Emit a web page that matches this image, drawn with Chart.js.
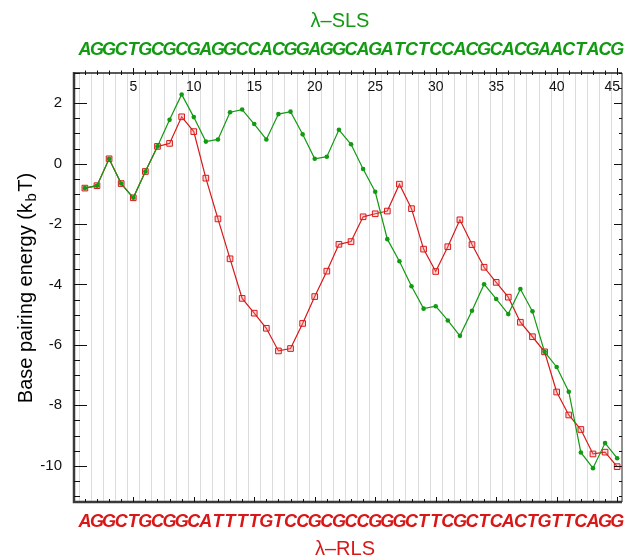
<!DOCTYPE html>
<html>
<head>
<meta charset="utf-8">
<script src="https://cdn.jsdelivr.net/npm/chart.js@4.4.0/dist/chart.umd.min.js"></script>
<style>
  html, body { margin: 0; padding: 0; background: #fff; }
  #wrap { width: 627px; height: 560px; }
</style>
</head>
<body>
<div id="wrap"><canvas id="energyChart" width="627" height="560"></canvas></div>
<script>
// sequences (one base per position)
const slsSeq = 'AGGCTGCGCGAGGCCACGGAGGCAGATCTCCACGCACGAACTACG';
const rlsSeq = 'AGGCTGCGGCATTTTGTCCGCGCCGGGCTTCGCTCACTGTTCAGG';

// base positions 1..45
const positions = Array.from(slsSeq, (_, i) => i + 1);

// base pairing energy (kbT)
const slsEnergy = [-0.81, -0.73, 0.16, -0.66, -1.13, -0.26, 0.57, 1.45, 2.29, 1.54,
  0.73, 0.80, 1.70, 1.79, 1.31, 0.80, 1.64, 1.72, 0.97, 0.16,
  0.23, 1.12, 0.64, -0.18, -0.93, -2.50, -3.23, -4.06, -4.80, -4.72,
  -5.19, -5.70, -4.87, -3.99, -4.48, -4.98, -4.15, -4.89, -6.23, -6.73,
  -7.55, -9.56, -10.08, -9.25, -9.75];

const rlsEnergy = [-0.81, -0.73, 0.16, -0.66, -1.13, -0.26, 0.57, 0.67, 1.55, 1.06,
  -0.48, -1.83, -3.15, -4.46, -4.95, -5.45, -6.20, -6.12, -5.29, -4.40,
  -3.56, -2.67, -2.58, -1.76, -1.66, -1.57, -0.68, -1.49, -2.83, -3.57,
  -2.75, -1.86, -2.68, -3.43, -3.93, -4.42, -5.25, -5.73, -6.23, -7.56,
  -8.32, -8.80, -9.61, -9.55, -10.03];

const yTicks = [-10, -8, -6, -4, -2, 0, 2];
const topTicks = [5, 10, 15, 20, 25, 30, 35, 40, 45];

const GREEN = '#129a12';
const RED = '#d81818';
const FONT = '"Liberation Sans", Arial, Helvetica, sans-serif';

// axes frame, ticks, grid, sequences and labels
const decorPlugin = {
    id: 'decor',
    beforeDatasetsDraw(chart) {
        const { ctx, chartArea: a, scales: { x } } = chart;
        ctx.save();
        ctx.strokeStyle = '#dcdcdc';
        ctx.lineWidth = 1;
        for (let k = 0.5; k <= 45.5; k += 1) {
            const px = Math.round(x.getPixelForValue(k)) + 0.5;
            if (px <= a.left + 1 || px >= a.right - 1) continue;
            ctx.beginPath();
            ctx.moveTo(px, a.top);
            ctx.lineTo(px, a.bottom);
            ctx.stroke();
        }
        ctx.restore();
    },
    afterDraw(chart) {
        const { ctx, chartArea: a, scales: { x, y } } = chart;
        ctx.save();

        // frame
        ctx.strokeStyle = '#222';
        ctx.lineWidth = 1.5;
        ctx.beginPath();
        ctx.moveTo(a.left, a.top);
        ctx.lineTo(a.right, a.top);
        ctx.stroke();
        ctx.lineWidth = 1;
        ctx.beginPath();
        ctx.moveTo(a.right, a.top);
        ctx.lineTo(a.right, a.bottom);
        ctx.stroke();
        ctx.strokeStyle = '#3a3a3a';
        ctx.lineWidth = 2.5;
        ctx.beginPath();
        ctx.moveTo(a.left, a.top - 1);
        ctx.lineTo(a.left, a.bottom);
        ctx.lineTo(a.right, a.bottom);
        ctx.stroke();

        // x ticks (top and bottom)
        ctx.strokeStyle = '#111';
        ctx.lineWidth = 1;
        for (let k = 1; k <= 45; k++) {
            const px = Math.round(x.getPixelForValue(k)) + 0.5;
            const major = k % 5 === 0;
            ctx.beginPath();
            ctx.moveTo(px, a.top - (major ? 5 : 2.5));
            ctx.lineTo(px, a.top + 2);
            ctx.moveTo(px, a.bottom - (major ? 5 : 3));
            ctx.lineTo(px, a.bottom);
            ctx.stroke();
        }

        // y ticks (left and right, inward)
        ctx.lineWidth = 1.2;
        for (let v = -11; v <= 3; v += 0.5) {
            const py = Math.round(y.getPixelForValue(v)) + 0.5;
            if (py < a.top || py > a.bottom) continue;
            const major = v % 2 === 0;
            ctx.beginPath();
            ctx.moveTo(a.left, py);
            ctx.lineTo(a.left + (major ? 13 : 6), py);
            ctx.moveTo(a.right, py);
            ctx.lineTo(a.right - (major ? 8 : 3), py);
            ctx.stroke();
        }

        // top tick labels, inside the frame
        ctx.fillStyle = '#111';
        ctx.font = '14px ' + FONT;
        ctx.textAlign = 'center';
        ctx.textBaseline = 'middle';
        topTicks.forEach(t => {
            const off = t === 45 ? -5 : 0;
            ctx.fillText(String(t), x.getPixelForValue(t) + off, a.top + 14);
        });

        // sequences
        ctx.font = 'italic bold 18px ' + FONT;
        positions.forEach((p, i) => {
            const px = x.getPixelForValue(p);
            ctx.fillStyle = GREEN;
            ctx.fillText(slsSeq[i], px, 50);
            ctx.fillStyle = RED;
            ctx.fillText(rlsSeq[i], px, 522);
        });

        // titles
        ctx.font = '20px ' + FONT;
        ctx.fillStyle = GREEN;
        ctx.fillText('\u03bb\u2013SLS', 340, 21);
        ctx.fillStyle = RED;
        ctx.fillText('\u03bb\u2013RLS', 345, 549);

        // y axis title with subscript
        ctx.translate(25, 288);
        ctx.rotate(-Math.PI / 2);
        ctx.fillStyle = '#000';
        ctx.textBaseline = 'alphabetic';
        const big = '20px ' + FONT, small = '15px ' + FONT;
        const parts = [['Base pairing energy (k', big, 0], ['b', small, 4], ['T)', big, 0]];
        let total = 0;
        parts.forEach(([t, f]) => { ctx.font = f; total += ctx.measureText(t).width; });
        total += 3;
        let cx = -total / 2;
        ctx.textAlign = 'left';
        parts.forEach(([t, f, dy], i) => {
            ctx.font = f;
            ctx.fillText(t, cx, 7 + dy);
            cx += ctx.measureText(t).width + (i < 2 ? 1.5 : 0);
        });
        ctx.restore();
    }
};

const ctx = document.getElementById('energyChart').getContext('2d');

new Chart(ctx, {
    type: 'line',
    data: {
        datasets: [
            {
                label: '\u03bb-SLS',
                data: positions.map((p, i) => ({ x: p, y: slsEnergy[i] })),
                borderColor: GREEN,
                backgroundColor: GREEN,
                borderWidth: 1.2,
                pointStyle: 'circle',
                pointRadius: 2.3,
                pointBorderWidth: 0,
                tension: 0
            },
            {
                label: '\u03bb-RLS',
                data: positions.map((p, i) => ({ x: p, y: rlsEnergy[i] })),
                borderColor: RED,
                backgroundColor: 'rgba(255, 140, 140, 0.3)',
                borderWidth: 1.2,
                pointStyle: 'rect',
                pointRadius: 4,
                pointBorderWidth: 1,
                pointBorderColor: RED,
                tension: 0
            }
        ]
    },
    options: {
        responsive: false,
        animation: false,
        layout: { padding: { left: 0, top: 73, right: 5, bottom: 58 } },
        plugins: {
            legend: { display: false },
            tooltip: { enabled: false }
        },
        scales: {
            x: {
                type: 'linear',
                min: 0.1,
                max: 45.4,
                display: false
            },
            y: {
                min: -11.2,
                max: 3,
                afterBuildTicks: (s) => { s.ticks = yTicks.map(v => ({ value: v })); },
                afterFit: (s) => { s.width = 74; },
                grid: { display: false, drawTicks: false },
                border: { display: false },
                ticks: {
                    padding: 12,
                    color: '#111',
                    font: { family: FONT, size: 15 }
                }
            }
        }
    },
    plugins: [decorPlugin]
});
</script>
</body>
</html>
